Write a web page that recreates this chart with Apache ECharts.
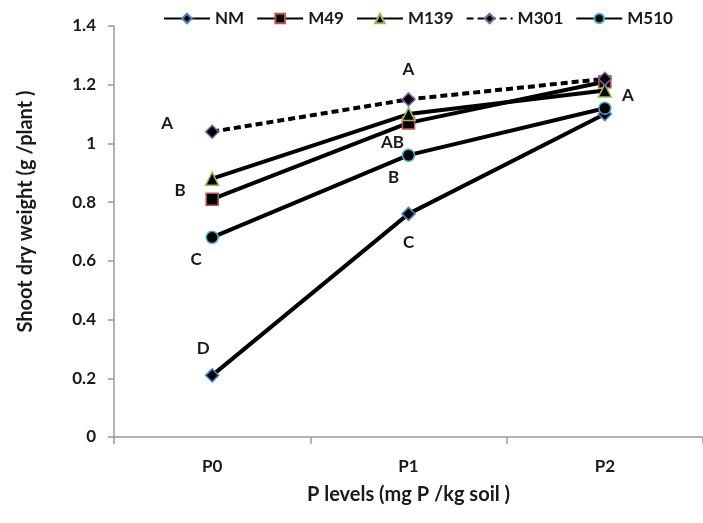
<!DOCTYPE html>
<html>
<head>
<meta charset="utf-8">
<script src="https://cdn.jsdelivr.net/npm/echarts@6/dist/echarts.min.js"></script>
<style>
  html, body { margin: 0; padding: 0; background: #fff; }
  #main { width: 703px; height: 523px; }
</style>
</head>
<body>
<div id="main"></div>
<script>
// P levels on the x axis
var categories = ['P0', 'P1', 'P2'];

// shoot dry weight (g/plant)
var nmValues   = [0.21, 0.76, 1.10];
var m49Values  = [0.81, 1.07, 1.21];
var m139Values = [0.88, 1.10, 1.18];
var m301Values = [1.04, 1.15, 1.22];
var m510Values = [0.68, 0.96, 1.12];

// significance letters next to the points ('' = none)
var nmLetters   = ['D', 'C', ''];
var m49Letters  = ['B', 'AB', ''];
var m139Letters = ['', '', 'A'];
var m301Letters = ['A', 'A', ''];
var m510Letters = ['C', 'B', ''];

var yTicks = [0, 0.2, 0.4, 0.6, 0.8, 1, 1.2, 1.4];

// where each letter sits relative to its point (pixels)
var letterOffsets = {
    NM:   [[-9, -27], [0, 29], [0, 0]],
    M49:  [[-32, -9], [-16, 20], [0, 0]],
    M139: [[0, 0], [0, 0], [23, 5]],
    M301: [[-45, -8], [0, -30], [0, 0]],
    M510: [[-16, 22], [-15, 22], [0, 0]]
};

var FONT = 'Lato';

function buildData(name, values, letters) {
    return values.map(function (v, i) {
        var item = { value: v };
        if (letters[i]) {
            item.label = {
                show: true,
                position: 'inside',
                offset: letterOffsets[name][i],
                formatter: letters[i],
                fontFamily: FONT,
                fontWeight: 'bold',
                fontSize: 17,
                color: '#1a1a1a'
            };
        }
        return item;
    });
}

function makeSeries(name, values, letters, symbol, size, border, dashed) {
    return {
        name: name,
        type: 'line',
        data: buildData(name, values, letters),
        symbol: symbol,
        symbolSize: size,
        showAllSymbol: true,
        lineStyle: { color: '#000', width: 4, type: dashed ? [7, 4] : 'solid' },
        itemStyle: { color: '#000', borderColor: border, borderWidth: 1.5 },
        label: { show: false },
        emphasis: { disabled: true },
        animation: false
    };
}

var myChart = echarts.init(document.getElementById('main'));

var option = {
    backgroundColor: '#fff',
    legend: {
        top: 5,
        left: 158,
        itemWidth: 46,
        itemHeight: 12,
        itemGap: 12,
        textStyle: { fontFamily: FONT, fontWeight: 'bold', fontSize: 17, color: '#1a1a1a' },
        data: ['NM', 'M49', 'M139', 'M301', 'M510']
    },
    grid: { left: 114, right: -2, top: 26, bottom: 86, containLabel: false },
    xAxis: {
        type: 'category',
        data: categories,
        boundaryGap: true,
        name: 'P levels (mg P /kg soil )',
        nameLocation: 'middle',
        nameGap: 48,
        nameTextStyle: { fontFamily: FONT, fontWeight: 'bold', fontSize: 20, color: '#1a1a1a' },
        axisLine: { lineStyle: { color: '#9a9a9a', width: 1.5 } },
        axisTick: { show: true, length: 7, lineStyle: { color: '#9a9a9a', width: 1.5 } },
        axisLabel: { margin: 21, fontFamily: FONT, fontWeight: 'bold', fontSize: 17, color: '#1a1a1a' },
        splitLine: { show: false }
    },
    yAxis: {
        type: 'value',
        min: 0,
        max: 1.4,
        interval: 0.2,
        name: 'Shoot dry weight (g /plant )',
        nameLocation: 'middle',
        nameGap: 78,
        nameTextStyle: { fontFamily: FONT, fontWeight: 'bold', fontSize: 20, color: '#1a1a1a', padding: [0, 0, 0, 40] },
        axisLine: { show: true, lineStyle: { color: '#9a9a9a', width: 1.5 } },
        axisTick: { show: true, length: 6, lineStyle: { color: '#9a9a9a', width: 1.5 } },
        axisLabel: {
            margin: 18,
            fontFamily: FONT, fontWeight: 'bold', fontSize: 17, color: '#1a1a1a',
            formatter: function (v) {
                var t = yTicks.filter(function (x) { return Math.abs(x - v) < 1e-6; });
                return t.length ? String(t[0]) : '';
            }
        },
        splitLine: { show: false }
    },
    series: [
        makeSeries('NM', nmValues, nmLetters, 'diamond', 13, '#4f81bd', false),
        makeSeries('M49', m49Values, m49Letters, 'rect', 12, '#c0504d', false),
        makeSeries('M139', m139Values, m139Letters, 'triangle', 13, '#9bbb59', false),
        makeSeries('M301', m301Values, m301Letters, 'diamond', 13, '#8064a2', true),
        makeSeries('M510', m510Values, m510Letters, 'circle', 12, '#4bacc6', false)
    ]
};

myChart.setOption(option);
</script>
</body>
</html>
